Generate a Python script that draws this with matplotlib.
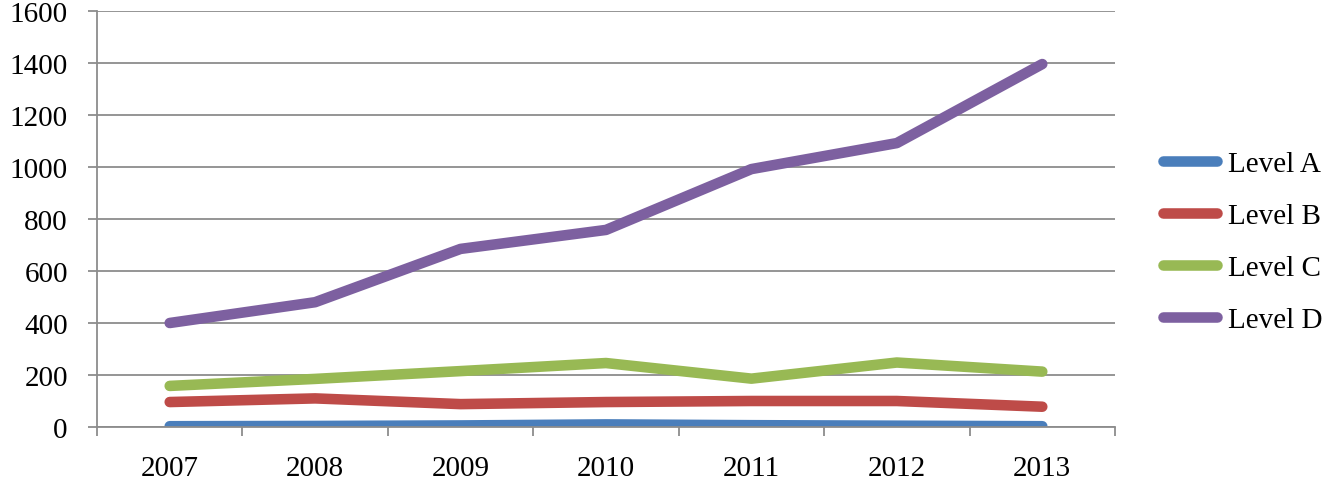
import matplotlib.pyplot as plt
from matplotlib.ticker import MultipleLocator, FixedLocator

#===== DATA =====#
years = ['2007', '2008', '2009', '2010', '2011', '2012', '2013']
level_a = [3, 4, 6, 10, 7, 5, 3]
level_b = [96, 110, 88, 96, 100, 100, 78]
level_c = [158, 185, 215, 246, 186, 248, 213]
level_d = [400, 480, 685, 758, 992, 1092, 1396]

series = [('Level A', level_a, '#4A7EBB'),
          ('Level B', level_b, '#BE4B48'),
          ('Level C', level_c, '#98B954'),
          ('Level D', level_d, '#7D60A0')]

plt.rcParams['font.family'] = ['Liberation Serif', 'DejaVu Serif']
grid_col = '#8C8C8C'
fs = 21

#===== FIGURE =====#
fig = plt.figure(figsize=(13.38, 4.89), dpi=100)
ax = fig.add_axes([97/1338, 1 - 428/489, (1115 - 97)/1338, (428 - 12)/489])

x = list(range(len(years)))
for name, vals, col in series:
    ax.plot(x, vals, color=col, lw=7.6, label=name,
            solid_capstyle='round', solid_joinstyle='round')

ax.set_xlim(-0.5, len(years) - 0.5)
ax.set_ylim(0, 1600)
ax.yaxis.set_major_locator(MultipleLocator(200))
ax.grid(axis='y', color=grid_col, lw=1.3)
ax.set_axisbelow(True)

# category labels centred, tick marks on the boundaries
ax.xaxis.set_major_locator(FixedLocator([i - 0.5 for i in range(len(years) + 1)]))
ax.xaxis.set_minor_locator(FixedLocator(x))
ax.set_xticklabels([''] * (len(years) + 1))
ax.set_xticklabels(years, minor=True)
ax.tick_params(axis='x', which='major', length=6.5, width=1.3, color=grid_col, direction='out')
ax.tick_params(axis='x', which='minor', length=0, pad=20, labelsize=fs)
ax.tick_params(axis='y', length=6.5, width=1.3, color=grid_col, pad=14.5, labelsize=fs)

for s in ['top', 'right']:
    ax.spines[s].set_visible(False)
for s in ['left', 'bottom']:
    ax.spines[s].set_color(grid_col)
    ax.spines[s].set_linewidth(1.3)

leg = ax.legend(loc='center left', bbox_to_anchor=(1.047, 0.445), frameon=False,
                fontsize=fs, handlelength=1.85, handletextpad=0.38, labelspacing=0.88,
                borderpad=0, borderaxespad=0)

fig.savefig('out.png', dpi=100)
